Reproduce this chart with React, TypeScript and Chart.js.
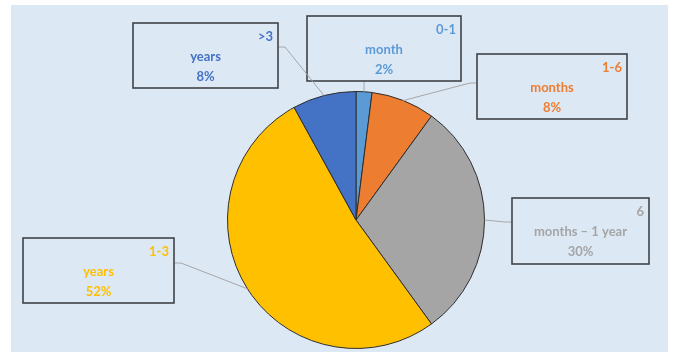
import React, { useEffect, useRef } from "react";
import { Chart, registerables } from "chart.js";

Chart.register(...registerables);

// ---- data ----
const categories = ["0-1 month", "1-6 months", "6 months – 1 year", "1-3 years", ">3 years"];
const values = [2, 8, 30, 52, 8];
const labelTop = ["0-1", "1-6", "6", "1-3", ">3"];
const labelMain = ["month", "months", "months – 1 year", "years", "years"];
const colors = ["#5b9bd5", "#ed7d31", "#a5a5a5", "#ffc000", "#4472c4"];

// ---- label box layout (relative to pie centre) ----
const boxLayout = [
  { dx: -49, dy: -204, w: 154, h: 65, side: "bottom", ay: 0 },
  { dx: 121, dy: -166, w: 150, h: 65, side: "left", ay: 29 },
  { dx: 156, dy: -22, w: 137, h: 66, side: "left", ay: 24 },
  { dx: -333, dy: 18, w: 151, h: 65, side: "right", ay: 25 },
  { dx: -223, dy: -197, w: 145, h: 65, side: "right", ay: 24 },
];

const labelPlugin = {
  id: "calloutLabels",
  beforeDraw(chart: any) {
    const ctx = chart.ctx;
    ctx.save();
    ctx.fillStyle = "#dde8f5";
    ctx.fillRect(11, 5, 657, 347);
    ctx.restore();
  },
  afterDatasetsDraw(chart: any) {
    const ctx = chart.ctx;
    const meta = chart.getDatasetMeta(0);
    ctx.save();
    meta.data.forEach((arc: any, i: number) => {
      const p = arc.getProps(["x", "y", "startAngle", "endAngle", "outerRadius"], true);
      const mid = (p.startAngle + p.endAngle) / 2;
      const px = p.x + Math.cos(mid) * p.outerRadius;
      const py = p.y + Math.sin(mid) * p.outerRadius;
      const L = boxLayout[i];
      const bx = p.x + L.dx;
      const by = p.y + L.dy;
      // leader line
      ctx.strokeStyle = "#a6a6a6";
      ctx.lineWidth = 1;
      ctx.beginPath();
      if (L.side === "bottom") {
        ctx.moveTo(px, by + L.h);
        ctx.lineTo(px, py);
      } else if (L.side === "left") {
        ctx.moveTo(bx, by + L.ay);
        ctx.lineTo(bx - 7, by + L.ay);
        ctx.lineTo(px, py);
      } else {
        ctx.moveTo(bx + L.w, by + L.ay);
        ctx.lineTo(bx + L.w + 7, by + L.ay);
        ctx.lineTo(px, py);
      }
      ctx.stroke();
      // box
      ctx.strokeStyle = "#3f4347";
      ctx.lineWidth = 1.6;
      ctx.strokeRect(bx, by, L.w, L.h);
      // text
      ctx.fillStyle = colors[i];
      ctx.font = "bold 13px Lato, 'Open Sans', sans-serif";
      ctx.textBaseline = "middle";
      ctx.textAlign = "right";
      ctx.fillText(labelTop[i], bx + L.w - 5, by + 14);
      ctx.textAlign = "center";
      ctx.fillText(labelMain[i], bx + L.w / 2, by + 34);
      ctx.fillText(values[i] + "%", bx + L.w / 2, by + 54);
    });
    ctx.restore();
  },
};

export default function App() {
  const ref = useRef<HTMLCanvasElement>(null);
  useEffect(() => {
    if (!ref.current) return;
    const chart = new Chart(ref.current, {
      type: "pie",
      data: {
        labels: categories,
        datasets: [
          {
            data: values,
            backgroundColor: colors,
            borderColor: "#2e2e2e",
            borderWidth: 1,
          },
        ],
      },
      options: {
        responsive: false,
        animation: false,
        layout: { padding: { left: 100, right: 63, top: 91, bottom: 3 } },
        plugins: { legend: { display: false }, tooltip: { enabled: false } },
      },
      plugins: [labelPlugin],
    });
    return () => chart.destroy();
  }, []);
  return (
    <div style={{ position: "absolute", left: 0, top: 0, width: 675, height: 352, background: "#fff" }}>
      <canvas ref={ref} width={675} height={352} style={{ display: "block" }} />
    </div>
  );
}
